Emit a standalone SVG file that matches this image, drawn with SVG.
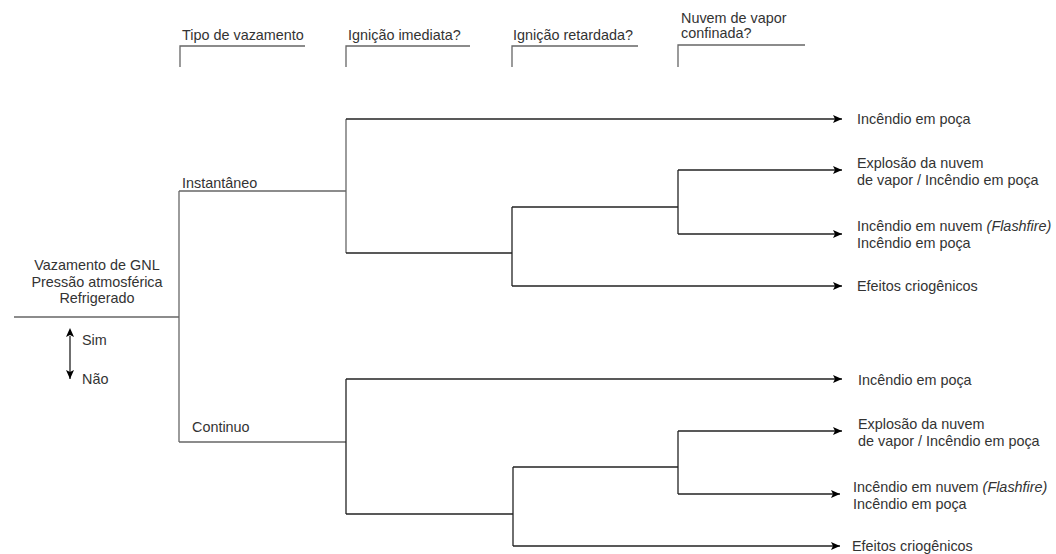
<svg xmlns="http://www.w3.org/2000/svg" width="1056" height="554" viewBox="0 0 1056 554">
<style>
text{font-family:"Liberation Sans",Arial,sans-serif;font-size:14.4px;fill:#333}
.l{fill:none;stroke:#222;stroke-width:1.3}
.g{fill:none;stroke:#666;stroke-width:1.3}
.a{marker-end:url(#ah)}
</style>
<defs>
<marker id="ah" markerWidth="10" markerHeight="8" refX="9" refY="4" orient="auto" markerUnits="userSpaceOnUse"><path d="M0,0 L9,4 L0,8 L2,4 Z" fill="#000"/></marker>
<marker id="as" markerWidth="10" markerHeight="8" refX="1" refY="4" orient="auto-start-reverse" markerUnits="userSpaceOnUse"><path d="M0,0 L9,4 L0,8 L2,4 Z" fill="#000"/></marker>
</defs>
<g id="headers">
<g id="h1"><text x="182" y="40">Tipo de vazamento</text><path class="g" d="M180,67 V46 H305"/></g>
<g id="h2"><text x="348" y="40">Ignição imediata?</text><path class="g" d="M346,67 V46 H470"/></g>
<g id="h3"><text x="513" y="40">Ignição retardada?</text><path class="g" d="M512,67 V46 H638"/></g>
<g id="h4"><text x="681" y="23">Nuvem de vapor</text><text x="681" y="38">confinada?</text><path class="g" d="M678,67 V45 H805"/></g>
</g>
<g id="connectors">
<path class="g" d="M14,317 H179"/>
<path class="g" d="M179,191 V442"/>
<path class="g" d="M179,191 H346"/>
<path class="g" d="M179,442 H346"/>
<path class="g" d="M346,119 V253"/>
<path class="l a" d="M346,119 H842"/>
<path class="l" d="M346,253 H512"/>
<path class="l" d="M512,207 V286"/>
<path class="l" d="M512,207 H678"/>
<path class="l" d="M678,170 V234"/>
<path class="l a" d="M678,170 H842"/>
<path class="l a" d="M678,234 H842"/>
<path class="l a" d="M512,286 H842"/>
<path class="l" d="M346,379 V514"/>
<path class="l a" d="M346,379 H842"/>
<path class="l" d="M346,514 H513"/>
<path class="l" d="M513,467 V546"/>
<path class="l" d="M513,467 H678"/>
<path class="l" d="M678,431 V494"/>
<path class="l a" d="M678,431 H842"/>
<path class="l a" d="M678,494 H840"/>
<path class="l a" d="M513,546 H840"/>
<path class="l" d="M70,336 V379" marker-start="url(#as)" marker-end="url(#ah)"/>
</g>
<g id="root"><text x="97" y="270" text-anchor="middle">Vazamento de GNL</text><text x="97" y="287" text-anchor="middle">Pressão atmosférica</text><text x="97" y="303" text-anchor="middle">Refrigerado</text></g>
<g id="legend"><text x="82" y="345">Sim</text><text x="82" y="384">Não</text></g>
<g id="inst"><text x="182" y="188">Instantâneo</text></g>
<g id="cont"><text x="192" y="432">Continuo</text></g>
<g id="o1"><text x="857" y="124">Incêndio em poça</text></g>
<g id="o2"><text x="857" y="168">Explosão da nuvem</text><text x="857" y="185">de vapor / Incêndio em poça</text></g>
<g id="o3"><text x="857" y="231">Incêndio em nuvem <tspan font-style="italic">(Flashfire)</tspan></text><text x="857" y="248">Incêndio em poça</text></g>
<g id="o4"><text x="857" y="291">Efeitos criogênicos</text></g>
<g id="o5"><text x="858" y="385">Incêndio em poça</text></g>
<g id="o6"><text x="858" y="429">Explosão da nuvem</text><text x="858" y="446">de vapor / Incêndio em poça</text></g>
<g id="o7"><text x="853" y="492">Incêndio em nuvem <tspan font-style="italic">(Flashfire)</tspan></text><text x="853" y="509">Incêndio em poça</text></g>
<g id="o8"><text x="852" y="551">Efeitos criogênicos</text></g>
</svg>
